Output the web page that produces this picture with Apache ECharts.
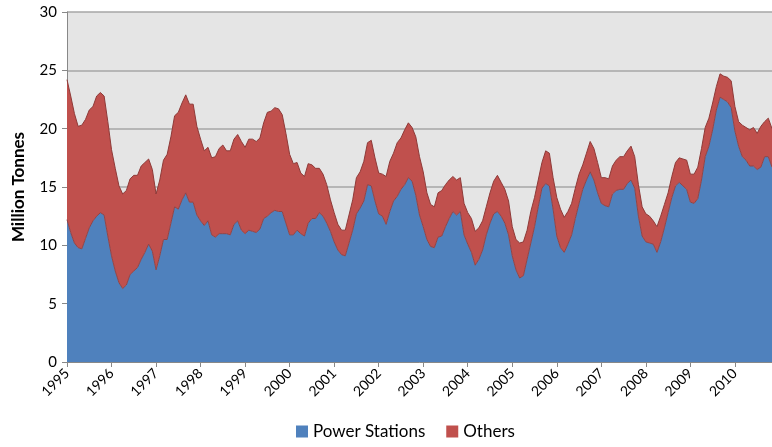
<!DOCTYPE html>
<html>
<head>
<meta charset="utf-8">
<script src="https://cdn.jsdelivr.net/npm/echarts@6/dist/echarts.min.js"></script>
<style>
html,body{margin:0;padding:0;background:#fff;}
#chart{width:772px;height:447px;}
</style>
</head>
<body>
<div id="chart"></div>
<script>
// Monthly data, Jan 1995 onwards
const years = ['1995','1996','1997','1998','1999','2000','2001','2002','2003','2004','2005','2006','2007','2008','2009','2010'];
const monthCount = 191;
const yTicks = [0, 5, 10, 15, 20, 25, 30];

const powerStations = [
12.2,11.1,10.2,9.8,9.7,10.6,11.5,12.1,12.5,12.8,12.6,10.8,
9.1,7.8,6.8,6.3,6.6,7.5,7.8,8.1,8.8,9.4,10.1,9.5,
7.9,9.1,10.5,10.5,11.9,13.3,13.1,13.9,14.5,13.7,13.7,12.6,
12.1,11.7,12.1,10.9,10.7,11.0,11.0,11.0,10.9,11.8,12.1,11.3,
11.0,11.3,11.2,11.1,11.4,12.3,12.5,12.8,13.0,12.9,12.9,11.9,
10.9,10.9,11.3,11.0,10.8,11.9,12.3,12.3,12.8,12.5,11.9,11.2,
10.3,9.6,9.2,9.1,10.2,11.3,12.7,13.2,13.8,15.2,15.1,13.8,
12.7,12.5,11.8,12.9,13.8,14.2,14.8,15.2,15.8,15.5,14.3,12.6,
11.6,10.5,9.9,9.8,10.7,10.8,11.6,12.3,12.9,12.6,12.9,10.9,
10.1,9.4,8.3,8.8,9.6,10.9,11.9,12.7,12.9,12.5,11.9,10.9,
9.1,7.9,7.2,7.4,8.8,10.2,11.6,13.3,14.9,15.3,15.1,13.1,
10.8,9.8,9.4,10.1,10.9,12.3,13.6,14.8,15.6,16.3,15.6,14.5,
13.6,13.4,13.3,14.4,14.7,14.8,14.8,15.3,15.6,14.9,12.5,10.8,
10.3,10.2,10.1,9.4,10.3,11.5,12.8,14.1,15.1,15.4,15.1,14.8,
13.7,13.6,14.0,15.6,17.6,18.5,19.9,21.6,22.7,22.5,22.3,21.8,
19.8,18.5,17.6,17.3,16.8,16.8,16.5,16.7,17.6,17.6,16.7
];

const others = [
12.0,11.7,11.1,10.4,10.6,10.2,10.1,9.8,10.3,10.3,10.2,9.8,
9.1,8.8,8.3,8.1,8.1,8.2,8.2,7.9,8.0,7.7,7.3,7.0,
6.5,6.5,6.8,7.3,7.4,7.8,8.3,8.3,8.4,8.4,8.4,7.6,
7.0,6.4,6.3,6.6,6.9,7.3,7.6,7.1,7.2,7.3,7.4,7.6,
7.4,7.8,7.9,7.8,7.8,8.2,8.9,8.7,8.8,8.8,8.3,7.7,
6.9,6.1,5.8,5.2,5.1,5.1,4.6,4.3,3.8,3.6,3.3,2.7,
2.5,2.2,2.1,2.2,2.4,2.6,3.1,3.1,3.4,3.6,3.9,3.7,
3.5,3.6,4.1,4.3,4.1,4.6,4.4,4.7,4.7,4.6,5.0,5.0,
4.7,4.0,3.6,3.5,3.8,3.9,3.6,3.3,3.0,3.0,2.9,2.7,
2.7,2.9,2.9,2.7,2.5,2.4,2.6,2.8,3.1,2.9,2.9,2.9,
2.5,2.6,3.0,2.9,2.5,2.7,2.5,2.3,2.2,2.8,2.8,2.7,
3.3,3.3,3.0,2.8,2.7,2.6,2.5,2.1,2.3,2.6,2.7,2.6,
2.2,2.4,2.4,2.4,2.6,2.8,2.8,2.8,2.9,2.7,2.7,2.5,
2.4,2.3,2.0,2.2,2.2,2.0,1.7,1.8,2.0,2.1,2.3,2.5,
2.4,2.5,2.7,2.7,2.5,2.4,2.3,2.0,2.0,2.0,2.1,2.3,
2.1,2.1,2.7,2.8,3.1,3.3,3.1,3.5,3.0,3.3,3.3
];

// category labels: one per month
const categories = [];
for (let i = 0; i < monthCount; i++) {
  const y = years[0] * 1 + Math.floor(i / 12);
  categories.push(y + '-' + String(i % 12 + 1).padStart(2, '0'));
}

const FONT = 'Lato, "Liberation Sans", sans-serif';
const chart = echarts.init(document.getElementById('chart'), null, {renderer: 'canvas'});
chart.setOption({
  animation: false,
  backgroundColor: '#ffffff',
  grid: {left: 67, right: 0, top: 12, bottom: 85, show: true, backgroundColor: '#E5E5E5', borderWidth: 0},
  legend: {
    bottom: 2, left: 291,
    itemWidth: 12, itemHeight: 12, itemGap: 21,
    icon: 'rect',
    textStyle: {fontFamily: FONT, fontSize: 17, color: '#000'},
    data: ['Power Stations', 'Others']
  },
  xAxis: {
    type: 'category',
    boundaryGap: false,
    data: categories,
    axisLine: {show: true, lineStyle: {color: '#888', width: 1}},
    axisTick: {show: true, length: 5, lineStyle: {color: '#888'}, interval: function (i) { return i % 12 === 0; }},
    axisLabel: {
      interval: function (i) { return i % 12 === 0; },
      formatter: function (v) { return v.slice(0, 4); },
      rotate: 45, margin: 9,
      fontFamily: FONT, fontSize: 14, color: '#000'
    },
    splitLine: {show: false}
  },
  yAxis: {
    type: 'value',
    min: yTicks[0], max: yTicks[yTicks.length - 1], interval: 5,
    name: 'Million Tonnes',
    nameLocation: 'middle',
    nameGap: 40,
    nameTextStyle: {fontFamily: FONT, fontSize: 17, fontWeight: 'bold', color: '#000'},
    axisLine: {show: true, lineStyle: {color: '#888', width: 1}},
    axisTick: {show: true, length: 5, lineStyle: {color: '#888'}},
    axisLabel: {fontFamily: FONT, fontSize: 15, color: '#000', margin: 10},
    splitLine: {show: true, lineStyle: {color: '#A6A6A6', width: 1.5}}
  },
  series: [
    {
      name: 'Power Stations', type: 'line', stack: 'total',
      data: powerStations, symbol: 'none', smooth: false,
      itemStyle: {color: '#4F81BD'},
      lineStyle: {color: '#8E4448', width: 1},
      areaStyle: {color: '#4F81BD', opacity: 1}
    },
    {
      name: 'Others', type: 'line', stack: 'total',
      data: others, symbol: 'none', smooth: false,
      itemStyle: {color: '#C0504D'},
      lineStyle: {color: '#8E3A38', width: 1},
      areaStyle: {color: '#C0504D', opacity: 1}
    }
  ]
});
</script>
</body>
</html>
